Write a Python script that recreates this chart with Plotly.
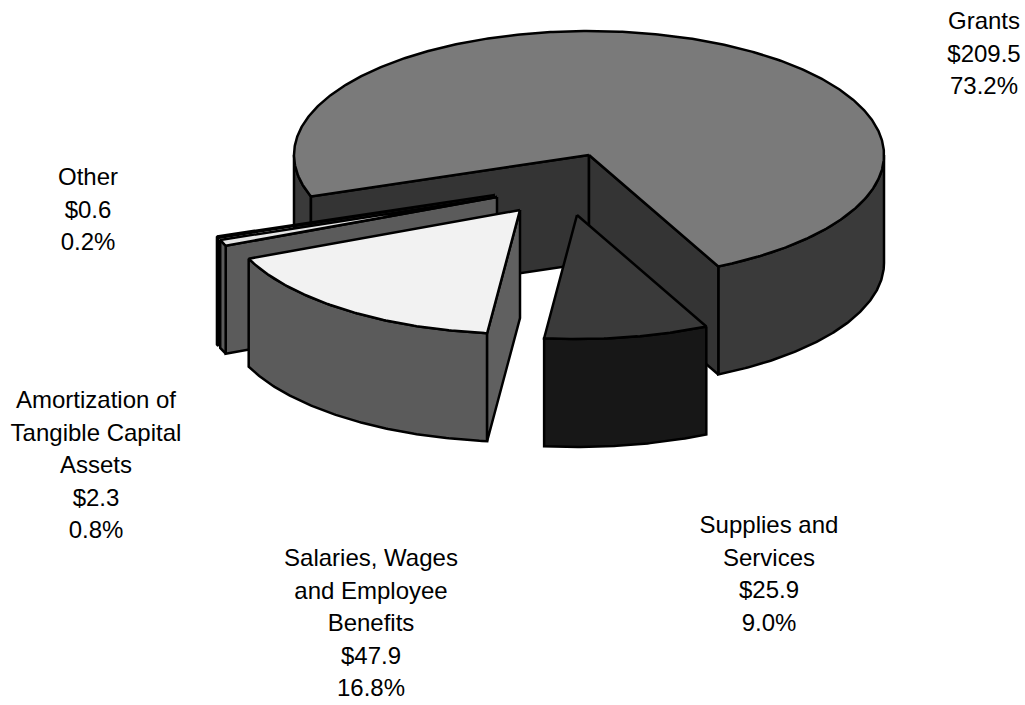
import numpy as np
import plotly.graph_objects as go

categories = ["Grants", "Supplies and Services", "Salaries, Wages and Employee Benefits",
              "Amortization of Tangible Capital Assets", "Other"]
amounts = [209.5, 25.9, 47.9, 2.3, 0.6]
percents = [73.2, 9.0, 16.8, 0.8, 0.2]
label_lines = [
    ["Grants"],
    ["Supplies and", "Services"],
    ["Salaries, Wages", "and Employee", "Benefits"],
    ["Amortization of", "Tangible Capital", "Assets"],
    ["Other"],
]

# projection of the tilted pie (plot units = pixels)
CX, CY, RX, RY, DEPTH = 589, 155, 295, 124, 108
START_ANGLE = 64.0          # clockwise on screen, Grants ends here
ORDER = [1, 2, 3, 4, 0]     # slices clockwise from START_ANGLE
OFFSETS = {0: (0, 0), 1: (-12, 60), 2: (-69, 55), 3: (-92, 42), 4: (-94, 40)}
TOP = {0: "#7a7a7a", 1: "#3a3a3a", 2: "#f2f2f2", 3: "#e6e6e6", 4: "#e6e6e6"}
SIDE = {0: "#3a3a3a", 1: "#171717", 2: "#5b5b5b", 3: "#5b5b5b", 4: "#111111"}
WALL = {0: "#343434", 2: "#606060", 3: "#5b5b5b"}
LABEL_X = [984, 769, 371, 96, 88]
LABEL_Y = [23, 527, 560, 402, 179]
LINE_GAP = 32.6

angles = {}
a = START_ANGLE
for i in ORDER:
    b = a + percents[i] * 3.6
    angles[i] = (a, b)
    a = b


def pt(i, ang, depth=0):
    dx, dy = OFFSETS[i]
    r = np.radians(ang)
    return CX + dx + RX * np.cos(r), CY + dy + RY * np.sin(r) + depth


def arc(i, a0, a1, depth=0):
    n = max(2, int(abs(a1 - a0) * 2) + 1)
    xs, ys = pt(i, np.linspace(a0, a1, n), depth)
    return list(xs), list(ys)


fig = go.Figure()


def poly(xs, ys, color, name):
    fig.add_trace(go.Scatter(x=xs + xs[:1], y=ys + ys[:1], mode="lines", fill="toself",
                             fillcolor=color, line=dict(color="black", width=2.5),
                             hoverinfo="text", text=name, showlegend=False))


def outer_side(i, a0, a1):
    xt, yt = arc(i, a0, a1)
    xb, yb = arc(i, a1, a0, DEPTH)
    poly(xt + xb, yt + yb, SIDE[i], categories[i])


def wall(i, ang):
    dx, dy = OFFSETS[i]
    ax, ay = CX + dx, CY + dy
    ex, ey = pt(i, ang)
    poly([ax, ex, ex, ax], [ay, ey, ey + DEPTH, ay + DEPTH], WALL[i], categories[i])


def top(i):
    a0, a1 = angles[i]
    dx, dy = OFFSETS[i]
    xs, ys = arc(i, a0, a1)
    poly([CX + dx] + xs, [CY + dy] + ys, TOP[i], categories[i])


# Grants: back to front
g0, g1 = angles[0]
outer_side(0, g0, 180)
outer_side(0, 360, g1)
wall(0, g0)
wall(0, g1)
top(0)
# Other
outer_side(4, *angles[4])
top(4)
# Amortization
wall(3, angles[3][0])
outer_side(3, *angles[3])
top(3)
# Salaries
outer_side(2, *angles[2])
wall(2, angles[2][0])
top(2)
# Supplies
outer_side(1, *angles[1])
top(1)

# labels
tx, ty, tt = [], [], []
for i in range(len(categories)):
    lines = label_lines[i] + [f"${amounts[i]:.1f}", f"{percents[i]:.1f}%"]
    for k, s in enumerate(lines):
        tx.append(LABEL_X[i])
        ty.append(LABEL_Y[i] + k * LINE_GAP)
        tt.append(s)
fig.add_trace(go.Scatter(x=tx, y=ty, text=tt, mode="text", textposition="middle center",
                         textfont=dict(family="Liberation Sans, Arial", size=24, color="black"),
                         hoverinfo="skip", showlegend=False))

fig.update_layout(width=1025, height=705, margin=dict(l=0, r=0, t=0, b=0),
                  paper_bgcolor="white", plot_bgcolor="white",
                  xaxis=dict(range=[0, 1025], visible=False, fixedrange=True),
                  yaxis=dict(range=[705, 0], visible=False, fixedrange=True))
fig.write_html("out.html", post_script="document.body.style.margin='0';",
               config={"displayModeBar": False})
